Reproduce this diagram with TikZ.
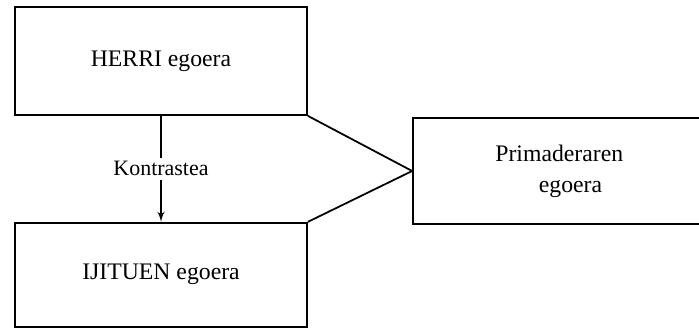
\documentclass[tikz,border=0pt]{standalone}
\usepackage{fontspec}
\setmainfont{Liberation Serif}
\usepackage{tikz}
\usetikzlibrary{positioning,arrows}

\begin{document}
\begin{tikzpicture}[>=latex',every node/.style={font=\fontsize{13.5}{17.5}\selectfont}]
  \useasboundingbox (0,0) rectangle (13.98,-6.56);
  % States (left column)
  
\node[draw,rectangle,line width=1pt,minimum width=5.84cm,minimum height=2.16cm] (herri) at (3.22,-1.22) {HERRI egoera};
  
\node[draw,rectangle,line width=1pt,minimum width=5.84cm,minimum height=2.08cm,below=2.12cm of herri] (ijituen) {IJITUEN egoera};

  % Spring state (right)
  
\node[draw,rectangle,line width=1pt,minimum width=6.2cm,minimum height=2.12cm,align=center] (prim) at (11.36,-3.42) {\hspace*{-0.35cm}Primaderaren\\\hspace*{0.1cm}egoera};

  % Connections
  \draw[->,line width=1pt] (herri.south) -- node[fill=white,inner sep=2pt,font=\fontsize{12.5}{15}\selectfont]{Kontrastea} (ijituen.north);
  \draw[line width=1pt] (herri.south east) -- (prim.west) -- (ijituen.north east);
\end{tikzpicture}
\end{document}
